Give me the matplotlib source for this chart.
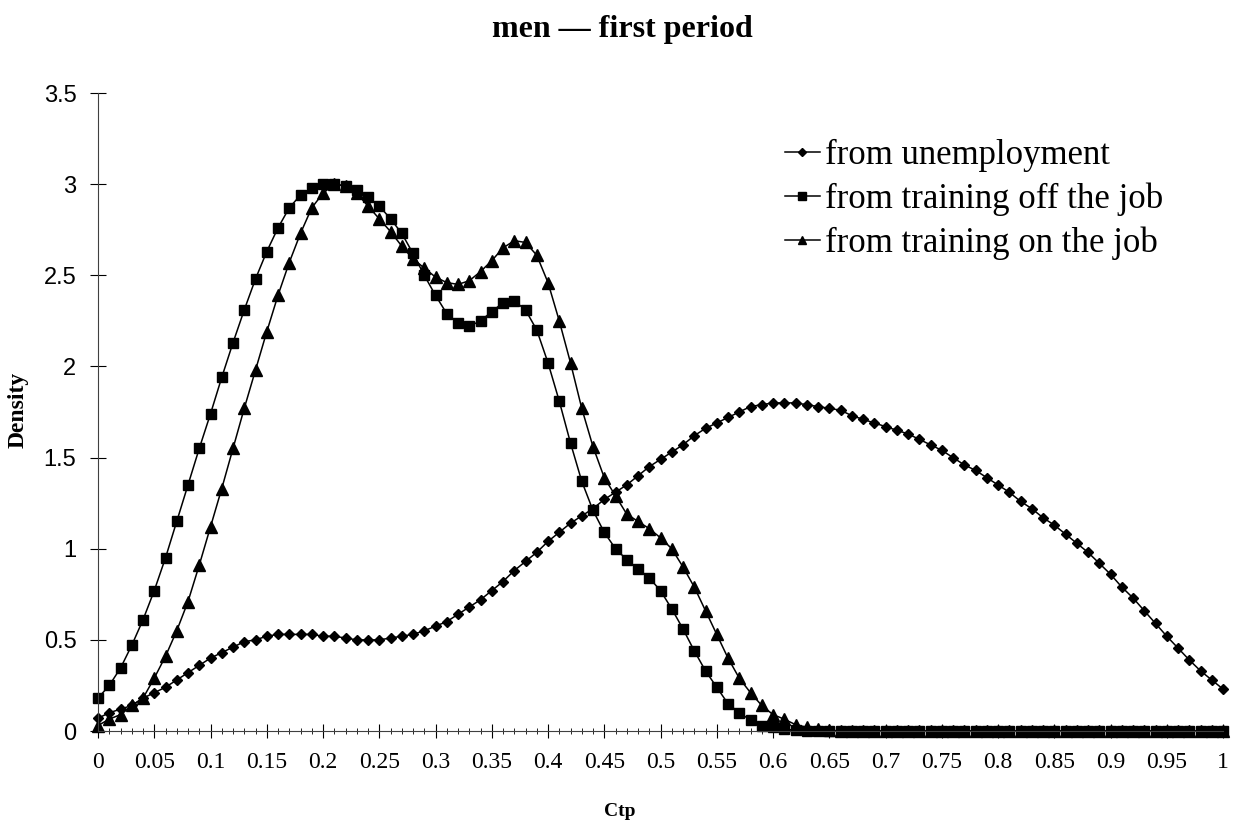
import matplotlib
matplotlib.use('Agg')
import matplotlib.pyplot as plt
import numpy as np

# Ctp grid (category axis, 0 to 1 in steps of 0.01)
ctp = np.linspace(0, 1, 101)

# density estimates
from_unemployment = [
    0.07, 0.10, 0.12, 0.14, 0.18, 0.21, 0.24, 0.28, 0.32, 0.36,
    0.40, 0.43, 0.46, 0.49, 0.50, 0.52, 0.53, 0.53, 0.53, 0.53,
    0.52, 0.52, 0.51, 0.50, 0.50, 0.50, 0.51, 0.52, 0.53, 0.55,
    0.575, 0.60, 0.64, 0.68, 0.72, 0.77, 0.82, 0.88, 0.93, 0.98,
    1.04, 1.09, 1.14, 1.18, 1.22, 1.27, 1.31, 1.35, 1.40, 1.45,
    1.49, 1.53, 1.57, 1.62, 1.66, 1.69, 1.72, 1.75, 1.78, 1.79,
    1.80, 1.80, 1.80, 1.79, 1.78, 1.77, 1.76, 1.73, 1.71, 1.69,
    1.67, 1.65, 1.63, 1.60, 1.57, 1.54, 1.50, 1.46, 1.43, 1.39,
    1.35, 1.31, 1.26, 1.22, 1.17, 1.13, 1.08, 1.03, 0.98, 0.92,
    0.86, 0.79, 0.73, 0.66, 0.59, 0.52, 0.455, 0.39, 0.33, 0.28,
    0.23]

from_training_off = [
    0.18, 0.25, 0.345, 0.47, 0.61, 0.77, 0.95, 1.15, 1.35, 1.55,
    1.74, 1.94, 2.13, 2.31, 2.48, 2.63, 2.76, 2.87, 2.94, 2.98,
    3.00, 3.00, 2.99, 2.97, 2.93, 2.88, 2.81, 2.73, 2.62, 2.50,
    2.39, 2.29, 2.24, 2.22, 2.25, 2.30, 2.35, 2.36, 2.31, 2.20,
    2.02, 1.81, 1.58, 1.37, 1.21, 1.09, 1.00, 0.94, 0.89, 0.84,
    0.77, 0.67, 0.56, 0.44, 0.33, 0.24, 0.15, 0.10, 0.06, 0.03,
    0.02, 0.01, 0.005] + [0.0] * 38

from_training_on = [
    0.03, 0.065, 0.09, 0.14, 0.18, 0.29, 0.41, 0.55, 0.71, 0.91,
    1.12, 1.33, 1.55, 1.77, 1.98, 2.19, 2.39, 2.57, 2.73, 2.87,
    2.95, 3.00, 2.99, 2.95, 2.88, 2.81, 2.74, 2.66, 2.59, 2.54,
    2.49, 2.46, 2.45, 2.47, 2.52, 2.58, 2.65, 2.69, 2.68, 2.61,
    2.46, 2.25, 2.02, 1.77, 1.56, 1.39, 1.29, 1.19, 1.15, 1.11,
    1.06, 1.00, 0.90, 0.79, 0.66, 0.53, 0.40, 0.29, 0.21, 0.14,
    0.09, 0.065, 0.035, 0.02, 0.01, 0.005] + [0.0] * 35

xtick_vals = np.linspace(0, 1, 21)
xtick_labels = ['0', '0.05', '0.1', '0.15', '0.2', '0.25', '0.3', '0.35', '0.4',
                '0.45', '0.5', '0.55', '0.6', '0.65', '0.7', '0.75', '0.8',
                '0.85', '0.9', '0.95', '1']
ytick_vals = [0, 0.5, 1, 1.5, 2, 2.5, 3, 3.5]
ytick_labels = ['0', '0.5', '1', '1.5', '2', '2.5', '3', '3.5']

serif = 'Liberation Serif'
sans = 'Liberation Sans'

fig = plt.figure(figsize=(12.37, 8.25), dpi=100)
ax = fig.add_axes([98/1237, 1 - 731/825, 1125/1237, 638/825])

ax.plot(ctp, from_unemployment, color='k', lw=1.1, marker='D', ms=5.2,
        clip_on=False, label='from unemployment')
ax.plot(ctp, from_training_off, color='k', lw=1.1, marker='s', ms=7.5,
        clip_on=False, label='from training off the job')
ax.plot(ctp, from_training_on, color='k', lw=1.1, marker='^', ms=8.5,
        clip_on=False, label='from training on the job')

ax.set_xlim(0, 1)
ax.set_ylim(0, 3.5)
ax.spines['top'].set_visible(False)
ax.spines['right'].set_visible(False)
ax.spines['left'].set_color('#404040')
ax.spines['bottom'].set_color('#404040')

ax.set_xticks(xtick_vals)
ax.set_xticklabels(xtick_labels, fontfamily=serif, fontsize=17)
ax.set_xticks(ctp, minor=True)
ax.set_yticks(ytick_vals)
ax.set_yticklabels(ytick_labels, fontfamily=sans, fontsize=17)
ax.tick_params(axis='x', which='major', direction='inout', length=10, pad=10)
ax.tick_params(axis='x', which='minor', direction='inout', length=4)
ax.tick_params(axis='y', which='major', direction='inout', length=11, pad=10)

fig.text(622/1237, 1 - 30/825, 'men \u2014 first period', ha='center', va='center',
         fontfamily=serif, fontweight='bold', fontsize=23)
fig.text(620/1237, 1 - 811/825, 'Ctp', ha='center', va='center',
         fontfamily=serif, fontweight='bold', fontsize=14)
fig.text(18/1237, 1 - 410/825, 'Density', ha='center', va='center',
         rotation=90, fontfamily=serif, fontweight='bold', fontsize=17)

ax.legend(loc='upper left', bbox_to_anchor=(785/1237, 1 - 139/825),
          bbox_transform=fig.transFigure, frameon=False,
          prop={'family': serif, 'size': 25}, handlelength=1.0,
          handletextpad=0.15, labelspacing=0.3, markerscale=0.7,
          borderaxespad=0, borderpad=0)

fig.savefig('out.png', dpi=100)
